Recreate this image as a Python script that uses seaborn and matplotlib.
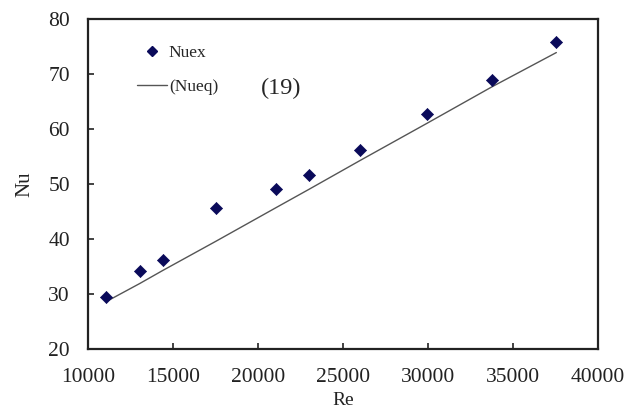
import matplotlib

matplotlib.use("Agg")
import matplotlib.pyplot as plt
import pandas as pd
import seaborn as sns
from matplotlib.lines import Line2D

# Values
re_values = [11060, 13040, 14410, 17530, 21060, 22980, 26020, 29920, 33780, 37550]
nu_exp = [29.5, 34.2, 36.2, 45.6, 49.1, 51.6, 56.2, 62.8, 68.9, 75.8]
nu_eq = [28.6, 31.9, 34.3, 39.6, 45.7, 49.0, 54.3, 61.0, 67.7, 73.9]
x_ticks = [10000, 15000, 20000, 25000, 30000, 35000, 40000]
y_ticks = [20, 30, 40, 50, 60, 70, 80]

sns.set_style("ticks")
plt.rcParams["font.family"] = ["Liberation Serif", "DejaVu Serif"]

data = pd.DataFrame({"Re": re_values, "Nuex": nu_exp, "Nueq": nu_eq})

fig = plt.figure(figsize=(6.37, 4.08), dpi=100)
ax = fig.add_axes([88 / 637, 59 / 408, 510 / 637, 330 / 408])

sns.lineplot(data=data, x="Re", y="Nueq", color="#555555", linewidth=1.0, ax=ax)
sns.scatterplot(
    data=data,
    x="Re",
    y="Nuex",
    marker="D",
    s=38,
    color="#0a0a5a",
    edgecolor="#0a0a5a",
    ax=ax,
    zorder=3,
)

ax.set_xlim(10000, 40000)
ax.set_ylim(20, 80)
ax.set_xticks(x_ticks)
ax.set_yticks(y_ticks)
ax.tick_params(direction="in", length=4, width=1.2, labelsize=15.5, colors="#222222")
ax.tick_params(axis="x", pad=14)
ax.tick_params(axis="y", pad=13)
for spine in ax.spines.values():
    spine.set_visible(True)
    spine.set_linewidth(1.6)
    spine.set_color("#222222")
ax.set_xlabel("Re", fontsize=14, color="#222222")
ax.set_ylabel("Nu", fontsize=15, color="#222222")
ax.xaxis.set_label_coords(0.5, -0.13)
ax.yaxis.set_label_coords(-0.106, 0.5)

handles = [
    Line2D([], [], marker="D", linestyle="none", color="#0a0a5a", markersize=5),
    Line2D([], [], color="#555555", linewidth=1.0),
]
ax.legend(
    handles,
    ["Nuex", "(Nueq)"],
    loc="upper left",
    bbox_to_anchor=(0.065, 0.97),
    frameon=False,
    fontsize=12.5,
    handlelength=1.75,
    handletextpad=0.1,
    labelspacing=1.05,
)
ax.text(0.339, 0.79, "(19)", transform=ax.transAxes, fontsize=17.5, va="center")

fig.savefig("out.png", dpi=100)
